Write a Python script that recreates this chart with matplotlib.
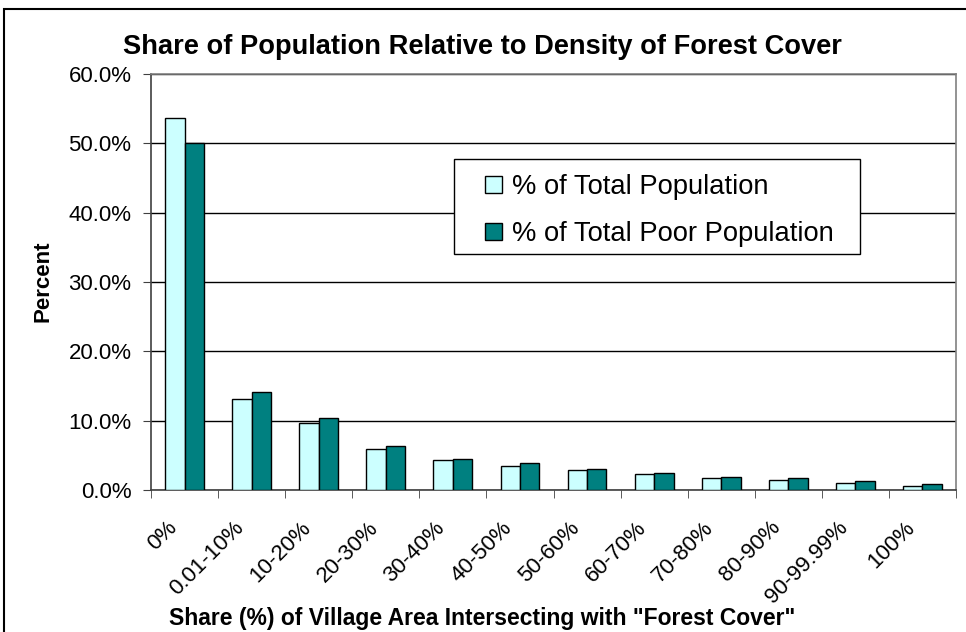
import numpy as np
import matplotlib
matplotlib.use("Agg")
import matplotlib.pyplot as plt
from matplotlib.ticker import FuncFormatter, FixedLocator
from matplotlib.transforms import ScaledTranslation
import matplotlib.patches as pl

categories = ["0%", "0.01-10%", "10-20%", "20-30%", "30-40%", "40-50%",
              "50-60%", "60-70%", "70-80%", "80-90%", "90-99.99%", "100%"]
total_pop = [53.6, 13.1, 9.6, 5.9, 4.3, 3.45, 2.9, 2.25, 1.7, 1.45, 1.0, 0.6]
poor_pop = [50.0, 14.1, 10.4, 6.3, 4.5, 3.9, 3.1, 2.5, 1.9, 1.7, 1.25, 0.8]

plt.rcParams['font.family'] = ['Liberation Sans', 'DejaVu Sans']

W, H = 966, 632
fig = plt.figure(figsize=(W / 100, H / 100), dpi=100)
ax = fig.add_axes([151 / W, 1 - 490 / H, 805 / W, 416 / H])

x = np.arange(len(categories))
w = 0.29
ax.bar(x - w / 2, total_pop, w, color='#CCFFFF', edgecolor='black', linewidth=1,
       label='% of Total Population', zorder=3)
ax.bar(x + w / 2, poor_pop, w, color='#008080', edgecolor='black', linewidth=1,
       label='% of Total Poor Population', zorder=3)

ax.set_xlim(-0.5, len(categories) - 0.5)
ax.set_ylim(0, 60)
ax.set_yticks(np.arange(0, 61, 10))
ax.yaxis.set_major_formatter(FuncFormatter(lambda v, p: f"{v:.1f}%"))
ax.grid(axis='y', color='black', linewidth=1, zorder=0)

ax.set_xticks(x)
ax.xaxis.set_minor_locator(FixedLocator(np.arange(-0.5, len(categories), 1)))
ax.tick_params(axis='x', which='major', length=0, pad=27, labelsize=16)
ax.tick_params(axis='x', which='minor', length=6, direction='out', color='#404040')
ax.tick_params(axis='y', length=6, direction='out', labelsize=16, pad=8,
               color='#404040')
ax.set_xticklabels(categories, rotation=45, ha='right', va='center',
                   rotation_mode='anchor')
shift = ScaledTranslation(-11 / 100, 3 / 100, fig.dpi_scale_trans)
for lab in ax.get_xticklabels():
    lab.set_transform(lab.get_transform() + shift)

for s in ax.spines.values():
    s.set_color('#808080')
    s.set_linewidth(1.2)
ax.spines['left'].set_color('#404040')
ax.spines['bottom'].set_color('#404040')

fig.text(482 / W, 1 - 47 / H, 'Share of Population Relative to Density of Forest Cover',
         fontsize=19.6, fontweight='bold', ha='center', va='center')
ax.set_ylabel('Percent', fontsize=16, fontweight='bold')
ax.yaxis.set_label_coords((53 - 151) / 805, (490 - 281) / 416)
fig.text(482 / W, 1 - 618 / H,
         'Share (%) of Village Area Intersecting with "Forest Cover"',
         fontsize=16.5, fontweight='bold', ha='center', va='center')

# legend box drawn separately, entries placed inside it
ax.add_patch(pl.Rectangle(((454 - 151) / 805, (490 - 254) / 416), 406 / 805, 95 / 416,
                          transform=ax.transAxes, facecolor='white',
                          edgecolor='black', linewidth=1, zorder=4))
leg = ax.legend(loc='upper left', bbox_to_anchor=((485 - 151) / 805, (490 - 174) / 416),
                fontsize=19.7, frameon=False,
                handlelength=0.62, handleheight=0.62, handletextpad=0.35,
                labelspacing=0.77, borderpad=0, borderaxespad=0)
leg.set_zorder(5)

fig.patches.append(pl.Rectangle((4 / W, -0.01), 1.0, 1 - 9 / H + 0.01,
                                transform=fig.transFigure, fill=False,
                                edgecolor='black', linewidth=1.5))

fig.savefig('out.png', dpi=100)
